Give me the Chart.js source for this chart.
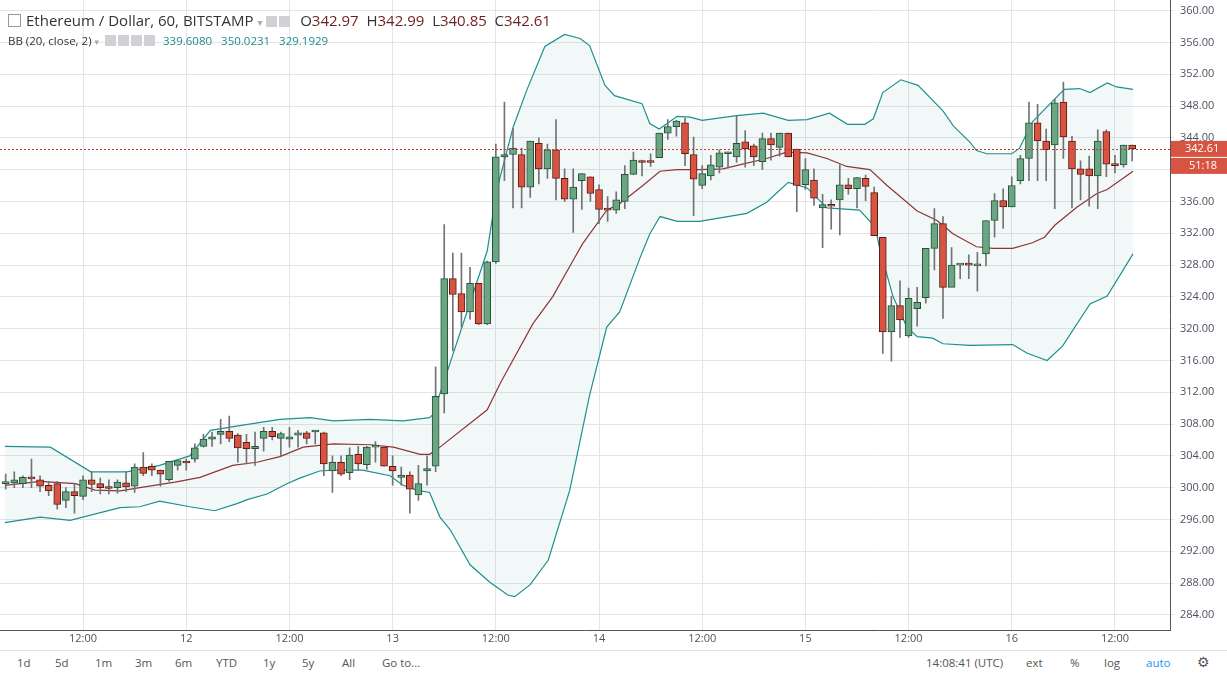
<!DOCTYPE html>
<html>
<head>
<meta charset="utf-8">
<script src="https://cdn.jsdelivr.net/npm/chart.js@4.4.0/dist/chart.umd.min.js"></script>
<style>
  html, body { margin: 0; padding: 0; background: #fff; font-family: "Open Sans", "DejaVu Sans", sans-serif; }
  #wrap { position: relative; width: 1227px; height: 650px; overflow: hidden; }
  #c { position: absolute; left: 0; top: -12px; }
  #head { position: absolute; left: 8px; top: 10px; color: #333; pointer-events: none; }
  #head .t1 { font-size: 15px; height: 22px; }
  #head .t2 { font-size: 11.5px; margin-top: 1px; }
  #head .v { color: #6e1e1e; }
  #head .bb { color: #1e8c8c; }
  #head .ico { display: inline-block; width: 11px; height: 11px; border: 1px solid #999; vertical-align: -1px; margin-right: 5px; }
  #head .gray { display: inline-block; width: 11px; height: 11px; background: #cfd1d4; margin-right: 2px; vertical-align: -1px; }
  #bar { width: 1227px; height: 23px; border-top: 1px solid #e0e3eb; font-size: 11.5px; color: #555; position: relative; }
  #bar span { position: absolute; top: 4px; }
</style>
</head>
<body>
<div id="wrap">
  <canvas id="c" width="1227" height="662"></canvas>
  <div id="head">
    <div class="t1"><span class="ico"></span>Ethereum / Dollar, 60, BITSTAMP <span style="color:#aaa;font-size:10px">▾</span>
      <span class="gray"></span><span class="gray"></span>
      &nbsp;O<span class="v">342.97</span>&nbsp; H<span class="v">342.99</span>&nbsp; L<span class="v">340.85</span>&nbsp; C<span class="v">342.61</span></div>
    <div class="t2">BB (20, close, 2) <span style="color:#aaa;font-size:9px">▾</span>
      &nbsp;<span class="gray"></span><span class="gray"></span><span class="gray"></span><span class="gray"></span>
      &nbsp;<span class="bb">339.6080</span>&nbsp;&nbsp; <span class="bb">350.0231</span>&nbsp;&nbsp; <span class="bb">329.1929</span></div>
  </div>
</div>
<div id="bar">
  <span style="left:17px">1d</span><span style="left:55px">5d</span><span style="left:95px">1m</span>
  <span style="left:135px">3m</span><span style="left:175px">6m</span><span style="left:216px">YTD</span>
  <span style="left:263px">1y</span><span style="left:302px">5y</span><span style="left:342px">All</span>
  <span style="left:382px">Go to...</span>
  <span style="left:926px">14:08:41 (UTC)</span><span style="left:1026px">ext</span>
  <span style="left:1070px">%</span><span style="left:1104px">log</span>
  <span style="left:1146px;color:#2196f3">auto</span><span style="left:1197px;font-size:14px;top:1px">⚙</span>
</div>
<script>
// ===========================
// Data (hourly candles, 11th 03:00 -> 16th 14:00)
// ===========================
const opens = [
  300.5,300.6,300.5,301.3,301.0,300.3,300.5,298.4,299.5,298.9,
  301.0,300.5,300.0,300.0,300.6,300.2,302.6,302.7,302.2,301.0,
  302.8,303.2,303.6,305.2,306.1,306.7,307.1,306.6,305.7,304.9,
  306.2,307.1,306.2,306.1,306.6,306.9,307.0,306.9,302.1,303.2,
  301.9,304.2,302.9,305.1,305.1,302.7,301.3,301.6,299.1,302.1,
  302.7,311.8,326.3,324.4,322.1,325.7,320.6,328.4,341.6,341.9,
  341.9,337.8,343.3,340.1,342.5,338.9,336.3,338.6,339.1,337.5,
  335.0,334.9,336.0,339.4,341.1,341.0,341.5,344.6,345.4,345.9,
  341.9,338.0,339.2,340.3,342.0,341.6,343.5,343.0,341.0,343.9,
  342.8,344.6,342.6,338.1,338.7,335.2,335.5,336.2,338.1,337.6,
  338.9,337.1,331.5,319.6,322.9,319.1,322.5,323.9,330.1,333.2,
  325.2,328.0,328.1,327.9,329.4,333.6,336.1,335.3,338.6,341.4,
  345.9,343.6,343.1,348.5,343.6,340.1,340.1,339.2,344.8,340.7,340.6,343.1
];
const closes = [
  300.5,301.0,301.3,301.1,300.2,299.6,297.9,299.5,299.0,301.0,
  300.4,300.0,299.9,300.7,300.1,302.6,301.8,302.2,301.7,303.3,
  303.4,303.1,305.0,306.1,306.4,307.1,306.2,305.0,304.9,305.2,
  307.1,306.4,306.8,306.4,306.9,306.2,307.0,303.0,303.2,301.7,
  304.1,303.0,305.1,305.1,302.7,302.1,301.6,299.8,300.5,302.4,
  311.5,326.3,324.3,322.1,325.7,320.6,328.4,341.6,341.9,342.7,
  337.8,343.6,340.1,342.5,338.9,336.3,337.8,339.5,337.0,335.0,
  334.9,336.2,339.4,341.2,340.9,340.9,344.6,345.4,346.1,342.0,
  338.8,339.5,340.6,342.1,342.1,343.3,342.6,341.6,343.9,343.1,
  344.6,341.6,338.0,340.0,336.4,335.6,335.4,338.1,337.6,339.0,
  337.9,331.7,319.6,322.9,321.1,323.8,323.3,330.1,333.2,325.2,
  328.0,328.1,328.0,328.1,333.6,336.1,335.3,338.0,341.4,345.9,
  343.6,342.5,348.4,344.1,340.1,339.4,339.2,343.6,340.7,340.5,343.1,342.61
];
const highs = [
  301.7,302.0,301.5,303.6,301.5,300.8,300.8,300.0,300.5,301.5,
  302.0,301.2,301.0,301.0,302.0,303.0,304.4,303.0,302.2,303.3,
  303.4,303.6,305.5,306.7,307.0,308.6,309.0,306.8,306.7,307.0,
  307.6,307.6,307.0,307.6,307.2,307.1,307.1,307.0,304.0,304.0,
  305.0,305.2,305.2,305.8,305.1,304.0,302.6,302.0,302.8,304.0,
  315.2,333.1,329.5,329.5,327.7,325.7,328.5,343.2,348.5,345.2,
  342.7,343.6,344.0,343.2,346.3,340.1,340.1,339.5,339.1,338.1,
  336.6,337.2,340.5,342.2,341.2,342.0,344.6,346.3,346.2,346.5,
  344.1,340.5,341.8,342.5,342.2,346.8,344.9,343.2,344.6,344.6,
  344.6,344.6,342.6,341.4,340.1,336.9,336.2,340.6,338.9,339.0,
  339.3,337.8,331.5,324.1,326.0,325.1,325.2,330.1,335.1,334.1,
  330.2,328.1,329.3,329.6,333.6,337.0,337.6,339.1,341.8,348.5,
  348.2,345.1,348.9,351.0,344.2,341.1,341.7,345.0,345.0,341.8,343.1,343.1
];
const lows = [
  299.8,300.0,300.0,300.0,299.5,299.0,297.3,297.5,296.8,298.5,
  299.5,299.2,299.2,299.3,299.5,299.4,301.5,301.5,300.2,300.8,
  302.2,302.2,303.2,305.1,305.2,305.5,305.8,303.2,303.0,302.8,
  304.6,306.0,304.0,305.1,305.1,305.5,305.5,301.5,299.4,301.5,
  301.0,302.2,302.3,303.2,302.7,300.3,300.3,296.8,298.4,300.3,
  302.0,309.4,317.2,320.2,321.2,320.5,320.5,328.2,338.6,335.2,
  335.2,336.5,338.2,338.9,336.2,336.0,332.1,335.0,336.0,333.2,
  333.5,334.5,335.1,339.4,339.2,340.4,341.5,343.8,344.2,340.5,
  334.2,337.6,338.7,339.6,340.2,340.9,340.3,340.5,340.0,341.2,
  341.7,341.6,334.7,337.5,335.5,330.2,332.5,331.8,336.9,335.2,
  336.1,331.7,316.9,315.9,318.9,318.9,320.3,323.2,327.4,321.3,
  326.1,326.3,326.3,324.7,327.9,331.5,332.6,335.3,338.2,338.6,
  338.6,338.6,335.1,341.4,335.2,336.2,335.4,335.1,339.1,339.6,340.3,341.1
];

// Bollinger band readings (candle index, price)
const upperX = [-0.1,5.2,9.9,14.1,17.9,21.4,23.8,27.2,31.9,35.4,38.1,42.4,46.2,49.3,49.7,56,57.1,59,60.6,62.7,65,66.8,67.9,69.7,70.8,74,74.9,76,78.1,79.6,81,85,88.1,91,93.2,95.8,97.9,99.9,100.9,102,104.1,106.1,109,110.2,112.1,112.9,114.1,117,117.9,119.4,121.1,123.1,124.9,126.1,128.1,129.2,131.1];
const upperY = [305.2,305.1,302,302,302.8,304,307.2,307.8,308.6,308.8,308.4,308.6,308.4,308.8,309.2,329.8,337.4,345.3,350,355.5,357,356.5,355.6,350.6,349.3,348.3,345.8,345.1,346.7,346.6,346.2,346.8,347.1,346.2,346.3,347.1,345.7,345.7,346.4,349.7,351.3,350.6,347.4,345.5,343.5,342.4,342,342,342.7,346,347.9,350.1,350.2,349.7,350.9,350.4,350.1];
const lowerX = [-0.1,4,7.5,13.3,15.6,17.9,21.4,24.3,26.9,28.1,30.4,32.7,34.2,36.5,38.1,41.5,44.7,46.2,47.8,49.3,50.5,51.7,54,56.3,58.4,59.2,61,63.1,65.6,67.9,69.9,71.4,73.8,74.9,76.1,78.1,80.7,86.2,88.5,91,93.2,95.5,99.3,101.1,101.7,103.2,104.8,106,107.8,109,112.1,117.1,118.8,121.1,122.9,126.1,128.1,131.1];
const lowerY = [295.6,296.3,295.9,297.5,297.6,298.3,297.6,297.1,298,298.5,299.2,300.5,301.2,302.1,302.2,302.2,301.5,300.3,299.7,299.4,296.3,294.7,290.3,288.1,286.5,286.3,287.8,290.9,299.7,311.6,320.2,322.1,329,331.9,334.1,333.5,333.5,334.5,335.9,338.4,337.7,335.2,334.9,332.8,329.8,324,320.2,319,318.8,318.1,317.9,318,316.9,316,317.8,323.1,324.1,329.4];
const midX = [-0.1,4,8.1,10.4,13.3,15.6,19.7,22.6,26.4,29.2,31.9,34.6,38.1,42.4,45.1,48.2,49.3,50.5,56,57.5,61.3,63.6,66,67.1,69.9,71.4,74.1,76.1,78.1,80.7,83.4,85.7,88.5,90.8,93.2,95.5,97.8,100.5,102.5,106,108.3,110.2,112.9,114.8,117.1,119.4,120.8,122,124.6,126.9,128.1,131.1];
const midY = [300.3,300.8,300.5,299.7,299.6,300,300.7,301.3,302.8,303.2,303.9,305.1,305.5,305.4,305.1,304.2,304.2,305.1,309.8,313.1,320.6,324,328.6,330.7,334.9,335.7,338,339.8,340,340,340.1,340.7,341.4,342.2,342.1,341.4,340.4,340,338,334.8,333.6,331.9,330.3,330.1,330.1,330.8,331.5,333,335.3,337,337.5,339.8];

// x tick labels every 12 hours, starting at 12:00 on the 11th (index 9)
const tickIdx = [9,21,33,45,57,69,81,93,105,117,129];
const tickLabels = ["12:00","12","12:00","13","12:00","14","12:00","15","12:00","16","12:00"];
const lastPrice = 342.61;
const countdown = "51:18";

const UP = "#6ba583", UP_B = "#225437", DN = "#d75442", DN_B = "#5b1a13";

const pts = (xs, ys) => xs.map((x, i) => ({ x: x, y: ys[i] }));
const bodies = opens.map((o, i) => ({ x: i, y: [Math.min(o, closes[i]), Math.max(o, closes[i])] }));
const wicks = highs.map((h, i) => ({ x: i, y: [lows[i], h] }));
const isUp = opens.map((o, i) => closes[i] >= o);

// last price line + right labels
const pricePlugin = {
    id: "priceLine",
    afterDatasetsDraw(chart) {
        const { ctx, chartArea, scales } = chart;
        const y = scales.y.getPixelForValue(lastPrice);
        ctx.save();
        ctx.strokeStyle = "#c0392b";
        ctx.lineWidth = 1;
        ctx.setLineDash([2, 2]);
        ctx.beginPath();
        ctx.moveTo(chartArea.left, Math.round(y) + 0.5);
        ctx.lineTo(chartArea.right, Math.round(y) + 0.5);
        ctx.stroke();
        ctx.setLineDash([]);
        ctx.fillStyle = "#d75442";
        ctx.fillRect(chartArea.right + 1, y - 8, 56, 16);
        ctx.fillRect(chartArea.right + 1, y + 9, 56, 16);
        ctx.fillStyle = "#fff";
        ctx.font = "11px 'Open Sans', sans-serif";
        ctx.textBaseline = "middle";
        ctx.fillText(lastPrice.toFixed(2), chartArea.right + 15, y);
        ctx.fillText(countdown, chartArea.right + 19, y + 17);
        ctx.restore();
    }
};

new Chart(document.getElementById("c").getContext("2d"), {
    type: "bar",
    data: {
        datasets: [
            {
                type: "line", data: pts(upperX, upperY), borderColor: "#1e9090", borderWidth: 1.2,
                pointRadius: 0, fill: "+1", backgroundColor: "rgba(30,144,144,0.06)", order: 5
            },
            {
                type: "line", data: pts(lowerX, lowerY), borderColor: "#1e9090", borderWidth: 1.2,
                pointRadius: 0, fill: false, order: 5
            },
            {
                type: "line", data: pts(midX, midY), borderColor: "#8e3535", borderWidth: 1.2,
                pointRadius: 0, fill: false, order: 4
            },
            {
                data: wicks, backgroundColor: "#737375", barThickness: 1, grouped: false, order: 3
            },
            {
                data: bodies,
                backgroundColor: isUp.map(u => u ? UP : DN),
                borderColor: isUp.map(u => u ? UP_B : DN_B),
                borderWidth: 1, borderSkipped: false, barThickness: 7, minBarLength: 2,
                grouped: false, order: 2
            }
        ]
    },
    options: {
        responsive: false,
        animation: false,
        layout: { padding: 0 },
        plugins: { legend: { display: false }, tooltip: { enabled: false } },
        scales: {
            x: {
                type: "linear", min: -0.66, max: 135.4, offset: false,
                afterBuildTicks: s => { s.ticks = tickIdx.map(v => ({ value: v })); },
                afterFit: s => { s.height = 20; },
                ticks: {
                    autoSkip: false, maxRotation: 0, color: "#4c525e", padding: 2,
                    font: { size: 11, family: "'Open Sans', sans-serif" },
                    callback: v => tickLabels[tickIdx.indexOf(v)]
                },
                grid: { color: "#e3e5e8", drawTicks: false, offset: false },
                border: { color: "#555" }
            },
            y: {
                position: "right", min: 282.1, max: 361.26,
                afterBuildTicks: s => {
                    const t = [];
                    for (let v = 284; v <= 360; v += 4) t.push({ value: v });
                    s.ticks = t;
                },
                afterFit: s => { s.width = 57; },
                ticks: {
                    color: "#4c525e", padding: 6,
                    font: { size: 11, family: "'Open Sans', sans-serif" },
                    callback: v => v.toFixed(2)
                },
                grid: { color: "#e3e5e8", drawTicks: true, tickLength: 4 },
                border: { color: "#555" }
            }
        }
    },
    plugins: [pricePlugin]
});
</script>
</body>
</html>
